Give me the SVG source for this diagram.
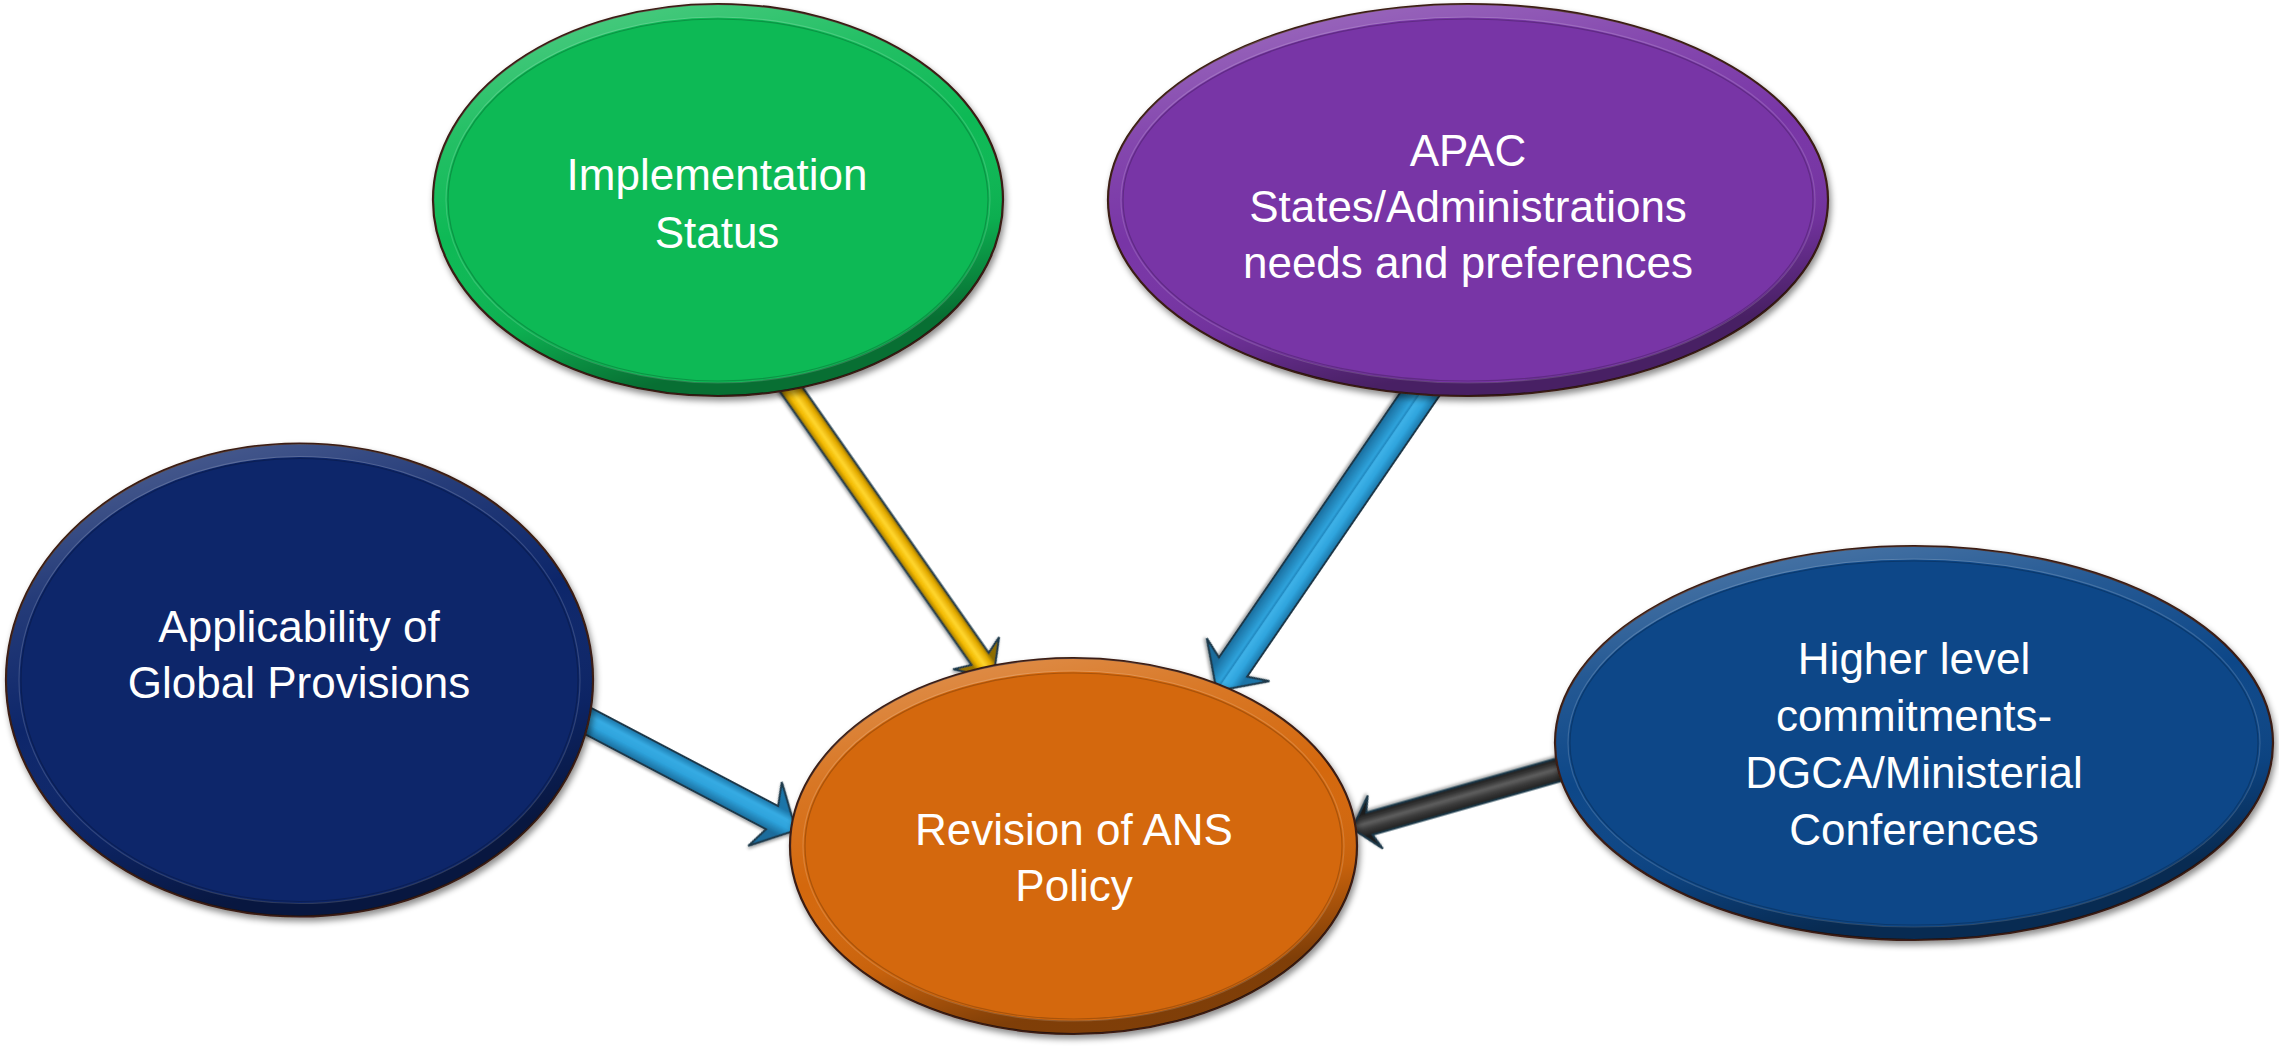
<svg xmlns="http://www.w3.org/2000/svg" width="2279" height="1052" viewBox="0 0 2279 1052">
<style>
.lbl{fill:#ffffff;font-family:"Liberation Sans",Arial,sans-serif;font-size:44px;text-anchor:middle}
.base{stroke:#3a1c12;stroke-width:2.2}
.rim{fill:none;stroke:url(#rim);stroke-width:13}
.inner{fill:none;stroke:#000;stroke-opacity:0.2;stroke-width:1.2}
.innerhl{fill:none;stroke:#fff;stroke-opacity:0.15;stroke-width:1.2}
.arrow{stroke:#1c3848;stroke-width:2;stroke-linejoin:miter}
</style>
<defs>
<filter id="sh" x="-10%" y="-10%" width="120%" height="125%">
<feDropShadow dx="2" dy="4" stdDeviation="3" flood-color="#000" flood-opacity="0.45"/>
</filter>
<filter id="ash" x="-10%" y="-30%" width="120%" height="160%">
<feDropShadow dx="1" dy="2" stdDeviation="1.5" flood-color="#000" flood-opacity="0.35"/>
</filter>
<linearGradient id="rim" x1="0" y1="0" x2="0.35" y2="1">
<stop offset="0" stop-color="#fff" stop-opacity="0.3"/>
<stop offset="0.3" stop-color="#fff" stop-opacity="0.1"/>
<stop offset="0.55" stop-color="#fff" stop-opacity="0"/>
<stop offset="0.8" stop-color="#000" stop-opacity="0.06"/>
<stop offset="1" stop-color="#000" stop-opacity="0.4"/>
</linearGradient>
<linearGradient id="gY" gradientUnits="userSpaceOnUse" x1="0" y1="-10.5" x2="0" y2="10.5">
<stop offset="0" stop-color="#8c6c00"/>
<stop offset="0.2" stop-color="#e3aa00"/>
<stop offset="0.5" stop-color="#ffd630"/>
<stop offset="0.75" stop-color="#f2b900"/>
<stop offset="1" stop-color="#9a7400"/>
</linearGradient>
<linearGradient id="gB1" gradientUnits="userSpaceOnUse" x1="0" y1="-17" x2="0" y2="17">
<stop offset="0" stop-color="#1b75a8"/>
<stop offset="0.25" stop-color="#2fa4dd"/>
<stop offset="0.48" stop-color="#3fb2e8"/>
<stop offset="0.52" stop-color="#1f86bd"/>
<stop offset="0.58" stop-color="#2ea3dc"/>
<stop offset="1" stop-color="#1a6c9c"/>
</linearGradient>
<linearGradient id="gB2" gradientUnits="userSpaceOnUse" x1="0" y1="-13" x2="0" y2="13">
<stop offset="0" stop-color="#1b75a8"/>
<stop offset="0.3" stop-color="#36abe3"/>
<stop offset="0.6" stop-color="#2ea3dc"/>
<stop offset="1" stop-color="#1a6c9c"/>
</linearGradient>
<linearGradient id="gG" gradientUnits="userSpaceOnUse" x1="0" y1="-11.5" x2="0" y2="11.5">
<stop offset="0" stop-color="#1e1e1e"/>
<stop offset="0.3" stop-color="#3a3a3a"/>
<stop offset="0.55" stop-color="#5e5e5e"/>
<stop offset="0.8" stop-color="#333"/>
<stop offset="1" stop-color="#1a1a1a"/>
</linearGradient>
</defs>
<rect width="2279" height="1052" fill="#ffffff"/>

<g id="connectors">
<polygon class="arrow" fill="url(#gY)" filter="url(#ash)" transform="translate(784.4 379.7) rotate(54.97)" points="0,-10.5 341,-10.5 334,-28 364,0 334,28 341,10.5 0,10.5"/>
<polygon class="arrow" fill="url(#gB1)" filter="url(#ash)" transform="translate(1428.5 381.6) rotate(124.4)" points="0,-17 346,-17 337,-38 375,0 337,38 346,17 0,17"/>
<polygon class="arrow" fill="url(#gB2)" filter="url(#ash)" transform="translate(574.7 714) rotate(27.7)" points="0,-13 223,-13 215,-36 250,0 215,36 223,13 0,13"/>
<polygon class="arrow" fill="url(#gG)" filter="url(#ash)" transform="translate(1572.4 765.9) rotate(164.1)" points="0,-11.5 211,-11.5 205,-27.5 229,0 205,27.5 211,11.5 0,11.5"/>
</g>

<g id="node-implementation">
<ellipse class="base" cx="718" cy="200" rx="285" ry="196" fill="#08b955" filter="url(#sh)"/>
<ellipse class="rim" cx="718" cy="200" rx="278" ry="189"/>
<ellipse class="innerhl" cx="718" cy="200" rx="272" ry="183"/>
<ellipse class="inner" cx="718" cy="200" rx="270" ry="181"/>
<text class="lbl" x="717" y="190">Implementation</text>
<text class="lbl" x="717" y="248">Status</text>
</g>

<g id="node-apac">
<ellipse class="base" cx="1468" cy="200" rx="360" ry="196" fill="#7835a6" filter="url(#sh)"/>
<ellipse class="rim" cx="1468" cy="200" rx="353" ry="189"/>
<ellipse class="innerhl" cx="1468" cy="200" rx="347" ry="183"/>
<ellipse class="inner" cx="1468" cy="200" rx="345" ry="181"/>
<text class="lbl" x="1468" y="166">APAC</text>
<text class="lbl" x="1468" y="222">States/Administrations</text>
<text class="lbl" x="1468" y="278">needs and preferences</text>
</g>

<g id="node-applicability">
<ellipse class="base" cx="299.5" cy="680" rx="293.5" ry="236.5" fill="#07286a" filter="url(#sh)"/>
<ellipse class="rim" cx="299.5" cy="680" rx="286.5" ry="229.5"/>
<ellipse class="innerhl" cx="299.5" cy="680" rx="280.5" ry="223.5"/>
<ellipse class="inner" cx="299.5" cy="680" rx="278.5" ry="221.5"/>
<text class="lbl" x="299" y="642">Applicability of</text>
<text class="lbl" x="299" y="698">Global Provisions</text>
</g>

<g id="node-higher">
<ellipse class="base" cx="1914" cy="743" rx="359" ry="197" fill="#0a4688" filter="url(#sh)"/>
<ellipse class="rim" cx="1914" cy="743" rx="352" ry="190"/>
<ellipse class="innerhl" cx="1914" cy="743" rx="346" ry="184"/>
<ellipse class="inner" cx="1914" cy="743" rx="344" ry="182"/>
<text class="lbl" x="1914" y="674">Higher level</text>
<text class="lbl" x="1914" y="731">commitments-</text>
<text class="lbl" x="1914" y="788">DGCA/Ministerial</text>
<text class="lbl" x="1914" y="845">Conferences</text>
</g>

<g id="node-revision">
<ellipse class="base" cx="1073.5" cy="846" rx="283.5" ry="188" fill="#d4680f" filter="url(#sh)"/>
<ellipse class="rim" cx="1073.5" cy="846" rx="276.5" ry="181"/>
<ellipse class="innerhl" cx="1073.5" cy="846" rx="270.5" ry="175"/>
<ellipse class="inner" cx="1073.5" cy="846" rx="268.5" ry="173"/>
<text class="lbl" x="1074" y="845">Revision of ANS</text>
<text class="lbl" x="1074" y="901">Policy</text>
</g>
</svg>
